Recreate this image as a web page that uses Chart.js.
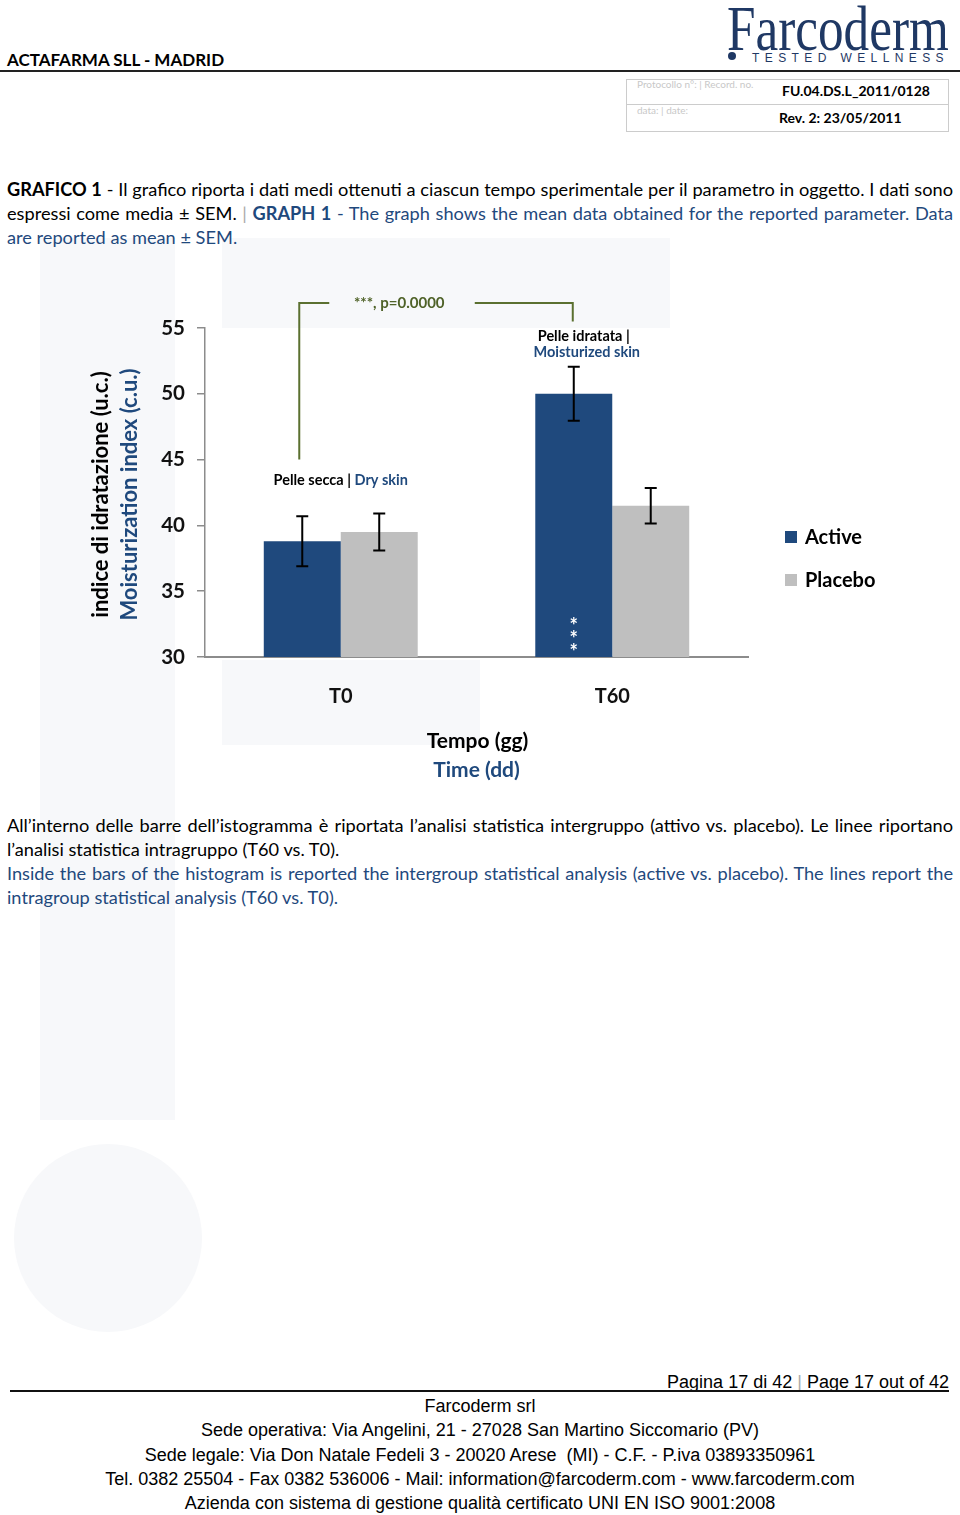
<!DOCTYPE html>
<html>
<head>
<meta charset="utf-8">
<script src="https://cdn.jsdelivr.net/npm/chart.js@4.4.1/dist/chart.umd.min.js"></script>
<style>
  html, body { margin: 0; padding: 0; background: #fff; }
  body { width: 960px; height: 1515px; position: relative; overflow: hidden; font-family: Lato, "Open Sans", sans-serif; color: #000; }
  .abs { position: absolute; }
  .wm { position: absolute; background: #f7f8fa; }
  .blue { color: #1f497d; }
  .sep { color: #aaa; font-weight: normal; }
  .line { position: absolute; left: 7px; width: 946px; font-size: 18.2px; line-height: 24px; white-space: nowrap; }
  .just { text-align: justify; text-align-last: justify; white-space: normal; }
  .foot { position: absolute; left: 0; width: 960px; text-align: center; font-family: "Liberation Sans", Arial, sans-serif; font-size: 18px; white-space: nowrap; }
  #chartWrap { position: absolute; left: 0; top: 260px; width: 960px; height: 540px; }
</style>
</head>
<body>
<!-- faint watermark shapes -->
<div class="wm" style="left:40px;top:238px;width:135px;height:882px;"></div>
<div class="wm" style="left:222px;top:238px;width:448px;height:90px;"></div>
<div class="wm" style="left:222px;top:660px;width:258px;height:85px;"></div>
<div class="wm" style="left:14px;top:1144px;width:188px;height:188px;border-radius:50%;"></div>

<!-- header -->
<div class="abs" style="left:7px;top:49px;font-size:17px;font-weight:bold;">ACTAFARMA SLL - MADRID</div>
<div class="abs" style="left:0;top:70px;width:960px;height:2px;background:#222;"></div>
<div class="abs" style="left:727px;top:-3px;font-family:'Liberation Serif',serif;font-size:64px;line-height:64px;color:#1f3864;transform:scaleX(0.8);transform-origin:left top;white-space:nowrap;">Farcoderm</div>
<div class="abs" style="left:728px;top:52px;width:8px;height:8px;border-radius:50%;background:#1f3864;"></div>
<div class="abs" style="left:752px;top:51px;font-family:'Liberation Sans',sans-serif;font-size:12px;letter-spacing:5.4px;color:#1f3864;white-space:nowrap;">TESTED WELLNESS</div>

<div class="abs" style="left:626px;top:79px;width:321px;height:51px;border:1px solid #ccc;"></div>
<div class="abs" style="left:626px;top:104px;width:322px;height:1px;background:#ccc;"></div>
<div class="abs" style="left:637px;top:78px;font-size:10px;color:#c8c8c8;">Protocollo n°: | Record. no.</div>
<div class="abs" style="left:637px;top:104px;font-size:10px;color:#c8c8c8;">data: | date:</div>
<div class="abs" style="left:782px;top:82px;font-size:14px;font-weight:bold;">FU.04.DS.L_2011/0128</div>
<div class="abs" style="left:779px;top:109px;font-size:14px;font-weight:bold;">Rev. 2: 23/05/2011</div>

<!-- caption -->
<div class="line just" style="top:177px;"><b>GRAFICO 1</b> - Il grafico riporta i dati medi ottenuti a ciascun tempo sperimentale per il parametro in oggetto. I dati sono</div>
<div class="line just" style="top:201px;">espressi come media ± SEM. <span class="sep">|</span> <span class="blue"><b>GRAPH 1</b> - The graph shows the mean data obtained for the reported parameter. Data</span></div>
<div class="line blue" style="top:225px;">are reported as mean ± SEM.</div>

<div id="chartWrap"><canvas id="chart" width="960" height="540"></canvas></div>

<!-- note under chart -->
<div class="line just" style="top:813px;">All’interno delle barre dell’istogramma è riportata l’analisi statistica intergruppo (attivo vs. placebo). Le linee riportano</div>
<div class="line" style="top:837px;">l’analisi statistica intragruppo (T60 vs. T0).</div>
<div class="line just blue" style="top:861px;">Inside the bars of the histogram is reported the intergroup statistical analysis (active vs. placebo). The lines report the</div>
<div class="line blue" style="top:885px;">intragroup statistical analysis (T60 vs. T0).</div>

<!-- footer -->
<div class="abs" style="right:11px;top:1372px;font-family:'Liberation Sans',Arial,sans-serif;font-size:18px;white-space:nowrap;">Pagina 17 di 42 <span style="color:#aaa;">|</span> Page 17 out of 42</div>
<div class="abs" style="left:10px;top:1390px;width:939px;height:2px;background:#111;"></div>
<div class="foot" style="top:1396px;">Farcoderm srl</div>
<div class="foot" style="top:1420px;">Sede operativa: Via Angelini, 21 - 27028 San Martino Siccomario (PV)</div>
<div class="foot" style="top:1445px;">Sede legale: Via Don Natale Fedeli 3 - 20020 Arese &nbsp;(MI) - C.F. - P.iva 03893350961</div>
<div class="foot" style="top:1469px;">Tel. 0382 25504 - Fax 0382 536006 - Mail: information@farcoderm.com - www.farcoderm.com</div>
<div class="foot" style="top:1493px;">Azienda con sistema di gestione qualità certificato UNI EN ISO 9001:2008</div>

<script>
// data
const categories = ["T0", "T60"];
const activeValues = [38.8, 50.0];
const placeboValues = [39.5, 41.5];
const activeSem = [1.9, 2.05];
const placeboSem = [1.4, 1.35];
const yTicks = [30, 35, 40, 45, 50, 55];

// intragroup bracket (values on y axis)
const bracketTop = 56.9;
const bracketLeftEnd = 45.0;
const bracketRightEnd = 55.5;

const BLUE = "#1f497d";
const GREY = "#bfbfbf";
const TEXT_BLUE = "#1f497d";
const OLIVE = "#4f6228";
const FONT = "Lato, 'Open Sans', sans-serif";

const extras = {
  id: "extras",
  afterDatasetsDraw(chart) {
    const ctx = chart.ctx;
    const y = chart.scales.y;
    const sems = [activeSem, placeboSem];
    ctx.save();
    ctx.strokeStyle = "#000";
    ctx.lineWidth = 2;
    chart.data.datasets.forEach((ds, di) => {
      chart.getDatasetMeta(di).data.forEach((bar, i) => {
        const v = ds.data[i];
        const top = y.getPixelForValue(v + sems[di][i]);
        const bot = y.getPixelForValue(v - sems[di][i]);
        ctx.beginPath();
        ctx.moveTo(bar.x, top); ctx.lineTo(bar.x, bot);
        ctx.moveTo(bar.x - 6, top); ctx.lineTo(bar.x + 6, top);
        ctx.moveTo(bar.x - 6, bot); ctx.lineTo(bar.x + 6, bot);
        ctx.stroke();
      });
    });

    // intergroup asterisks inside T60 active bar
    const t60 = chart.getDatasetMeta(0).data[1];
    ctx.fillStyle = "#fff";
    ctx.font = "bold 20px " + FONT;
    ctx.textAlign = "center";
    ctx.textBaseline = "middle";
    [32.7, 31.7, 30.7].forEach(v => ctx.fillText("*", t60.x, y.getPixelForValue(v) + 5));
    ctx.restore();
  },
  afterDraw(chart) {
    const ctx = chart.ctx;
    const y = chart.scales.y;
    const area = chart.chartArea;
    const a0 = chart.getDatasetMeta(0).data[0];
    const a1 = chart.getDatasetMeta(0).data[1];
    ctx.save();

    // bracket
    const yt = y.getPixelForValue(bracketTop);
    ctx.strokeStyle = "#5b7030";
    ctx.lineWidth = 2;
    ctx.beginPath();
    ctx.moveTo(a0.x - 3, y.getPixelForValue(bracketLeftEnd));
    ctx.lineTo(a0.x - 3, yt);
    ctx.lineTo(a0.x + 27, yt);
    ctx.moveTo(a1.x - 99, yt);
    ctx.lineTo(a1.x - 1, yt);
    ctx.lineTo(a1.x - 1, y.getPixelForValue(bracketRightEnd));
    ctx.stroke();
    ctx.fillStyle = OLIVE;
    ctx.font = "bold 15px " + FONT;
    ctx.textAlign = "center";
    ctx.textBaseline = "middle";
    ctx.fillText("***, p=0.0000", a0.x + 97, yt);

    // skin condition labels
    ctx.font = "bold 14.5px " + FONT;
    const t0c = chart.scales.x.getPixelForValue(0);
    const yDry = y.getPixelForValue(43.4);
    const part1 = "Pelle secca ", sep = "| ", part2 = "Dry skin";
    const w1 = ctx.measureText(part1).width, ws = ctx.measureText(sep).width, w2 = ctx.measureText(part2).width;
    let sx = t0c - (w1 + ws + w2) / 2;
    ctx.textAlign = "left";
    ctx.fillStyle = "#000"; ctx.fillText(part1, sx, yDry);
    ctx.fillText(sep, sx + w1, yDry);
    ctx.fillStyle = TEXT_BLUE; ctx.fillText(part2, sx + w1 + ws, yDry);

    ctx.textAlign = "center";
    ctx.fillStyle = "#000";
    ctx.fillText("Pelle idratata |", a1.x + 10, y.getPixelForValue(54.35));
    ctx.fillStyle = TEXT_BLUE;
    ctx.fillText("Moisturized skin", a1.x + 13, y.getPixelForValue(53.15));

    // y axis title (two languages)
    ctx.font = "bold 22px " + FONT;
    const ymid = (area.top + area.bottom) / 2 + 2;
    ctx.translate(area.left - 104, ymid);
    ctx.rotate(-Math.PI / 2);
    ctx.fillStyle = "#000";
    ctx.fillText("indice di idratazione (u.c.)", 0, 0);
    ctx.fillStyle = TEXT_BLUE;
    ctx.fillText("Moisturization index (c.u.)", 0, 29);
    ctx.setTransform(1, 0, 0, 1, 0, 0);

    // x axis title
    const xmid = (area.left + area.right) / 2;
    ctx.font = "bold 21px " + FONT;
    ctx.fillStyle = "#000";
    ctx.fillText("Tempo (gg)", xmid + 1, area.bottom + 84);
    ctx.fillStyle = TEXT_BLUE;
    ctx.fillText("Time (dd)", xmid, area.bottom + 113);

    // legend
    ctx.font = "bold 20px " + FONT;
    ctx.textAlign = "left";
    chart.data.datasets.forEach((ds, i) => {
      const ly = area.top + 209 + i * 43;
      ctx.fillStyle = ds.backgroundColor;
      ctx.fillRect(area.right + 37, ly - 6, 12, 12);
      ctx.fillStyle = "#000";
      ctx.fillText(ds.label, area.right + 57, ly + 1);
    });
    ctx.restore();
  }
};

new Chart(document.getElementById("chart"), {
  type: "bar",
  data: {
    labels: categories,
    datasets: [
      { label: "Active", data: activeValues, backgroundColor: BLUE },
      { label: "Placebo", data: placeboValues, backgroundColor: GREY },
    ],
  },
  options: {
    responsive: false,
    animation: false,
    events: [],
    layout: { padding: { top: 68, right: 212, bottom: 0, left: 0 } },
    datasets: { bar: { categoryPercentage: 0.567, barPercentage: 1.0 } },
    plugins: { legend: { display: false }, tooltip: { enabled: false } },
    scales: {
      x: {
        afterFit: (s) => { s.height = 143; },
        grid: { display: false },
        border: { display: true, color: "#8c8c8c", width: 2 },
        ticks: { color: "#111", padding: 20, font: { family: FONT, size: 20, weight: "bold" } },
      },
      y: {
        min: 30,
        max: 55,
        afterFit: (s) => { s.width = 205; },
        afterBuildTicks: (s) => { s.ticks = yTicks.map(v => ({ value: v })); },
        grid: { display: true, drawOnChartArea: false, drawTicks: true, tickLength: 8, color: "#8c8c8c", lineWidth: 1.5 },
        border: { display: true, color: "#8c8c8c", width: 1.5 },
        ticks: { color: "#111", padding: 12, font: { family: FONT, size: 20.5, weight: "bold" } },
      },
    },
  },
  plugins: [extras],
});
</script>
</body>
</html>
